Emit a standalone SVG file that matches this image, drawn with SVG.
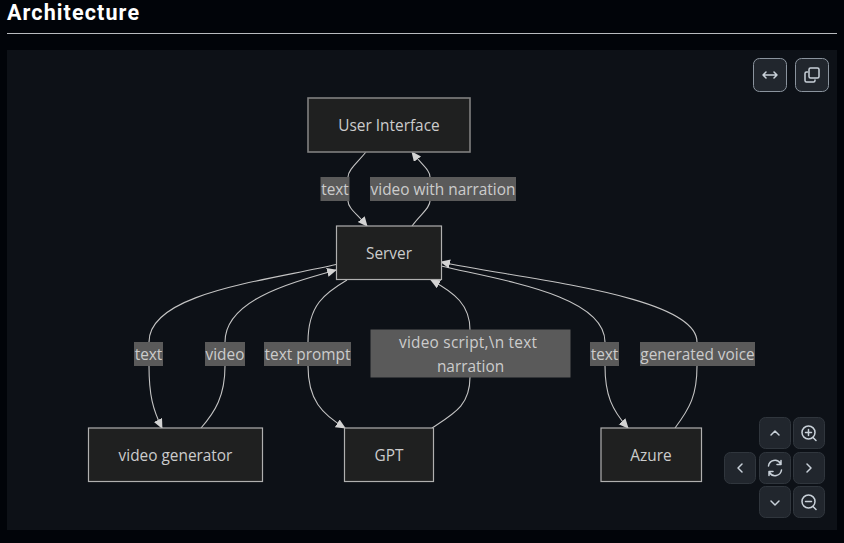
<svg xmlns="http://www.w3.org/2000/svg" width="844" height="543" viewBox="0 0 844 543">
<style>
.n{fill:#1f2020;stroke:#b0b0b0;stroke-width:1.2}
.e{fill:none;stroke:#c4c4c4;stroke-width:1.1}
.lb{fill:#5a5a5a}
text{font-family:"Open Sans","Noto Sans","Liberation Sans",sans-serif}
.t{font-size:15.4px;fill:#ccc;text-anchor:middle}
.btn{fill:#21262d;stroke:#30363d;stroke-width:1}
.btn2{fill:#21262d;stroke:#8b949e;stroke-width:1}
.ic{fill:none;stroke:#c9d1d9;stroke-width:1.5;stroke-linecap:round;stroke-linejoin:round}
</style>
<defs><marker id="a" markerWidth="10" markerHeight="10" refX="9" refY="4.500" orient="auto" markerUnits="userSpaceOnUse"><path d="M0 0L10 4.500L0 9Z" fill="#d3d3d3"/></marker></defs>
<rect width="844" height="543" fill="#010409"/>
<text x="7" y="20" font-size="21.5" font-weight="700" fill="#fff" textLength="132" lengthAdjust="spacing" style="font-family:Roboto,'Noto Sans',sans-serif">Architecture</text>
<rect x="7" y="33" width="830" height="1" fill="#b8bbbf"/>
<rect x="7" y="50" width="830" height="480" fill="#0d1117"/>
<g id="connectors">
<path class="e" marker-end="url(#a)" d="M366 152C357 163 348 170 348 177L348 201C348 208 357 214 367 226"/>
<path class="e" marker-end="url(#a)" d="M412 226C421 214 430 208 430 201L430 177C430 170 422 165 412 152"/>
<path class="e" marker-end="url(#a)" d="M336 264.500C265 281 149 293 149 342L149 366C149 395 153 410 162 428"/>
<path class="e" marker-end="url(#a)" d="M201 428C215 412 225 396 225 366L225 342C225 300 290 283 336 270"/>
<path class="e" marker-end="url(#a)" d="M347 280C325 293 308 305 308 342L308 366C308 400 322 414 345 428"/>
<path class="e" marker-end="url(#a)" d="M432 428C455 413 470 405 470 377L470 330C470 305 455 293 431 280"/>
<path class="e" marker-end="url(#a)" d="M441 266C500 280 605 295 605 342L605 366C605 395 612 410 628 428"/>
<path class="e" marker-end="url(#a)" d="M675 428C690 408 697 395 697 366L697 342C697 295 520 279 441 262"/>
</g>
<g id="edge-labels">
<g><rect class="lb" x="320.500" y="177" width="29" height="24"/><text class="t" x="335" y="194.500">text</text></g>
<g><rect class="lb" x="370" y="177" width="146" height="24"/><text class="t" x="443" y="194.500">video with narration</text></g>
<g><rect class="lb" x="134" y="342" width="29" height="24"/><text class="t" x="148.500" y="359.500">text</text></g>
<g><rect class="lb" x="205" y="342" width="40" height="24"/><text class="t" x="225" y="359.500">video</text></g>
<g><rect class="lb" x="264" y="342" width="87" height="24"/><text class="t" x="307.500" y="359.500">text prompt</text></g>
<g><rect class="lb" x="370.500" y="329.500" width="200" height="48"/><text class="t" x="468" y="347.500" textLength="138" lengthAdjust="spacing">video script,\n text</text><text class="t" x="470.500" y="371.500">narration</text></g>
<g><rect class="lb" x="590" y="342" width="29" height="24"/><text class="t" x="604.500" y="359.500">text</text></g>
<g><rect class="lb" x="640" y="342" width="115" height="24"/><text class="t" x="697.500" y="359.500">generated voice</text></g>
</g>
<g id="ui"><rect class="n" style="stroke:#808080;stroke-width:1.6" x="308" y="98" width="162" height="54"/><text class="t" x="389" y="130.500">User Interface</text></g>
<g id="server"><rect class="n" x="336.500" y="226" width="105" height="53.500"/><text class="t" x="389" y="258.500">Server</text></g>
<g id="videogen"><rect class="n" x="88.500" y="428" width="174" height="53.500"/><text class="t" x="175.500" y="460.500">video generator</text></g>
<g id="gpt"><rect class="n" x="344.500" y="428" width="89" height="53.500"/><text class="t" x="389" y="460.500">GPT</text></g>
<g id="azure"><rect class="n" x="601" y="428" width="100.500" height="53.500"/><text class="t" x="651" y="460.500">Azure</text></g>
<g id="controls">
<rect class="btn2" x="753.500" y="58.500" width="33" height="33" rx="6"/>
<path class="ic" d="M763 75H777M766 72L763 75L766 78M774 72L777 75L774 78"/>
<rect class="btn2" x="795.500" y="58.500" width="33" height="33" rx="6"/>
<rect class="ic" x="809" y="68" width="10" height="10" rx="1.500"/>
<path class="ic" d="M807.500 72H806.500Q805 72 805 73.500V80.500Q805 82 806.500 82H813.500Q815 82 815 80.500V80"/>
<rect class="btn" x="759.500" y="417.500" width="31" height="31" rx="6"/>
<path class="ic" d="M771 435L775 431L779 435"/>
<rect class="btn" x="793.500" y="417.500" width="31" height="31" rx="6"/>
<circle class="ic" cx="808.500" cy="432.500" r="6.500"/><path class="ic" d="M813 437.500L816 440.500M805.500 432.500H811.500M808.500 429.500V435.500"/>
<rect class="btn" x="724.500" y="452.500" width="31" height="31" rx="6"/>
<path class="ic" d="M742 464L738 468L742 472"/>
<rect class="btn" x="759.500" y="452.500" width="31" height="31" rx="6"/>
<path class="ic" d="M768.500 466A6.500 6.500 0 0 1 780.500 463.500M781.500 470A6.500 6.500 0 0 1 769.500 472.500M781 460.500V464.500H777M769 475.500V471.500H773"/>
<rect class="btn" x="793.500" y="452.500" width="31" height="31" rx="6"/>
<path class="ic" d="M807 464L811 468L807 472"/>
<rect class="btn" x="759.500" y="486.500" width="31" height="31" rx="6"/>
<path class="ic" d="M771 501L775 505L779 501"/>
<rect class="btn" x="793.500" y="486.500" width="31" height="31" rx="6"/>
<circle class="ic" cx="808.500" cy="501.500" r="6.500"/><path class="ic" d="M813 506.500L816 509.500M805.500 501.500H811.500"/>
</g>
</svg>
